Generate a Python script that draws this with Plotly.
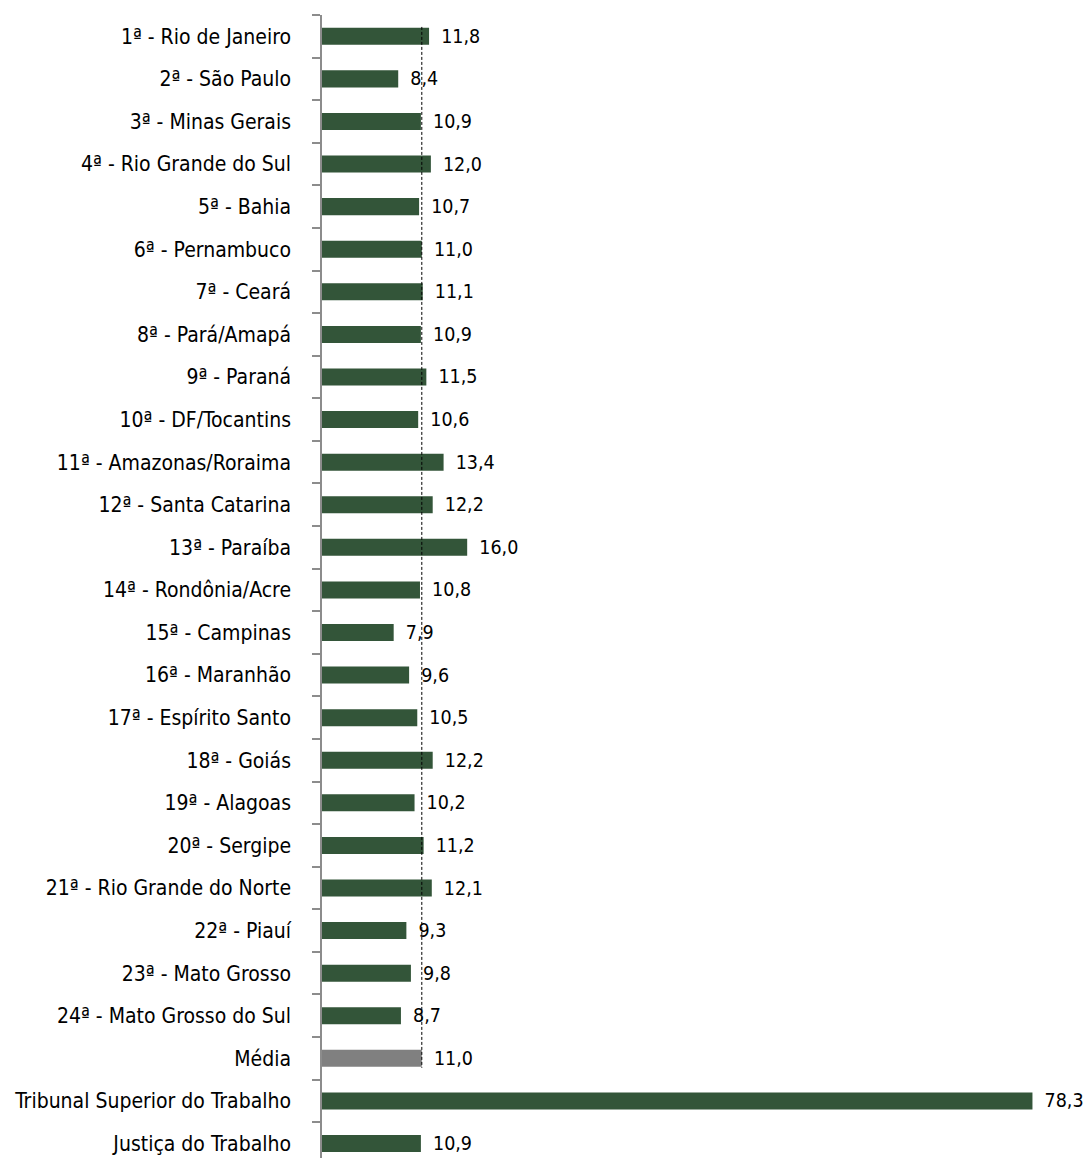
import plotly.graph_objects as go

categories = [
    "1ª - Rio de Janeiro", "2ª - São Paulo", "3ª - Minas Gerais", "4ª - Rio Grande do Sul",
    "5ª - Bahia", "6ª - Pernambuco", "7ª - Ceará", "8ª - Pará/Amapá", "9ª - Paraná",
    "10ª - DF/Tocantins", "11ª - Amazonas/Roraima", "12ª - Santa Catarina", "13ª - Paraíba",
    "14ª - Rondônia/Acre", "15ª - Campinas", "16ª - Maranhão", "17ª - Espírito Santo",
    "18ª - Goiás", "19ª - Alagoas", "20ª - Sergipe", "21ª - Rio Grande do Norte",
    "22ª - Piauí", "23ª - Mato Grosso", "24ª - Mato Grosso do Sul", "Média",
    "Tribunal Superior do Trabalho", "Justiça do Trabalho",
]
values = [11.8, 8.4, 10.9, 12.0, 10.7, 11.0, 11.1, 10.9, 11.5, 10.6, 13.4, 12.2, 16.0,
          10.8, 7.9, 9.6, 10.5, 12.2, 10.2, 11.2, 12.1, 9.3, 9.8, 8.7, 11.0, 78.3, 10.9]
media_value = 11.0

GREEN = "#335539"
GRAY = "#808080"
FONT = "DejaVu Sans Condensed, Liberation Sans Narrow, sans-serif"

colors = [GRAY if c == "Média" else GREEN for c in categories]
labels = [" \u2009" + f"{v:.1f}".replace(".", ",") for v in values]

fig = go.Figure(go.Bar(
    x=values, y=categories, orientation="h",
    marker=dict(color=colors, line=dict(width=0)),
    width=0.4,
    text=labels, textposition="outside", cliponaxis=False, constraintext="none",
    textfont=dict(family=FONT, size=19.5, color="black"),
    hoverinfo="skip",
))

idx_media = categories.index("Média")
fig.add_shape(type="line", xref="x", yref="y",
              x0=media_value, x1=media_value, y0=-0.22, y1=idx_media + 0.22,
              line=dict(color="black", width=1, dash="3px,2px"))

fig.update_layout(
    width=1084, height=1150,
    margin=dict(l=314, r=55, t=7, b=0, autoexpand=False),
    plot_bgcolor="white", paper_bgcolor="white",
    showlegend=False,
    font=dict(family=FONT, size=21, color="black"),
)
fig.update_xaxes(range=[0, 78.8], visible=False, showgrid=False, zeroline=False, automargin=False)
fig.update_yaxes(
    type="category", range=[len(categories) - 0.66, -0.5], automargin=False,
    showline=True, linecolor="#8c8c8c", linewidth=1.5,
    ticks="outside", ticklen=8, tickcolor="#8c8c8c", tickwidth=1.5,
    tickson="boundaries", ticklabelstandoff=25,
    showgrid=False, zeroline=False,
    tickfont=dict(family=FONT, size=21, color="black"),
)

fig.write_html("out.html")
